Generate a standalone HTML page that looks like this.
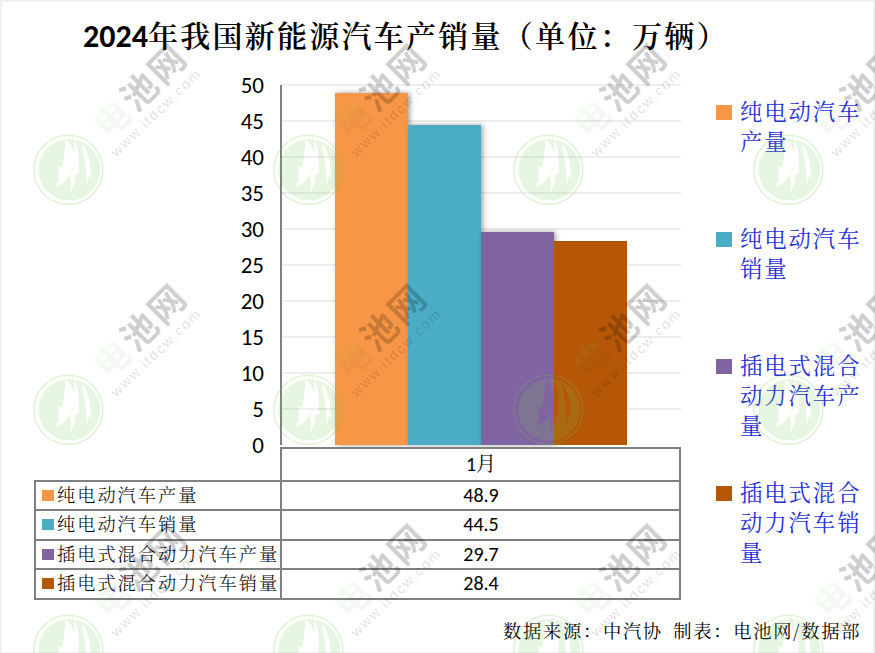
<!DOCTYPE html>
<html lang="zh-CN">
<head>
<meta charset="utf-8">
<title>2024年我国新能源汽车产销量</title>
<style>
html,body{margin:0;padding:0;}
body{width:875px;height:653px;overflow:hidden;background:#fff;position:relative;
  font-family:"Carlito","Liberation Sans","Noto Serif CJK SC",serif;color:#000;}
.frame{position:absolute;left:0;top:0;width:875px;height:653px;box-sizing:border-box;
  border-left:2px solid #f0f0f0;border-top:2px solid #f0f0f0;border-right:2px solid #f0f0f0;border-bottom:1px solid #f0f0f0;z-index:30;pointer-events:none;}
.abs{position:absolute;}
.title{position:absolute;left:83px;top:14px;font-size:32px;font-weight:bold;white-space:nowrap;line-height:40px;
  font-family:"Carlito","Liberation Sans","Noto Serif CJK SC",serif;}
.cjk{font-family:"Noto Serif CJK SC","Noto Sans CJK SC",serif;}
.tc{font-size:30px;font-weight:600;letter-spacing:2.27px;}
.grid{position:absolute;left:282px;width:399px;height:2px;background:#eeeeee;}
.ylab{position:absolute;right:611px;width:40px;text-align:right;font-size:23px;line-height:24px;}
.bar{position:absolute;width:73px;box-shadow:2px 0 5px rgba(0,0,0,0.36);}
.bar.ns{box-shadow:none;border-top:1px solid #ad5005;border-right:1px solid #ad5005;box-sizing:border-box;}
.hl{position:absolute;height:2px;background:#808080;}
.vl{position:absolute;width:2px;background:#808080;}
.trow{position:absolute;left:36px;width:244px;height:28px;font-size:18.2px;letter-spacing:2px;line-height:28px;white-space:nowrap;font-weight:300;}
.trow i{display:inline-block;width:12px;height:11px;margin:0 3px 0 6px;vertical-align:1px;}
.tval{position:absolute;left:282px;width:398px;text-align:center;font-size:20px;line-height:28px;}
.leg{position:absolute;left:716px;width:150px;}
.leg i{position:absolute;left:0;width:16px;height:15px;}
.leg span{position:absolute;left:24px;top:-3px;width:130px;font-size:22.4px;line-height:30px;color:#1f2fd8;
  font-family:"Noto Serif CJK SC",serif;letter-spacing:1.9px;font-weight:400;}
.foot{position:absolute;left:503px;top:617px;font-size:18.3px;letter-spacing:1.7px;line-height:26px;white-space:nowrap;word-spacing:4px;font-weight:400;
  font-family:"Noto Serif CJK SC",serif;}
.wm{position:absolute;left:0;top:0;width:875px;height:653px;z-index:40;pointer-events:none;}
</style>
</head>
<body>
<div class="title">2024<span class="cjk tc">年我国新能源汽车产销量（单位：万辆）</span></div>

<!-- gridlines -->
<div class="grid" style="top:84px"></div>
<div class="grid" style="top:120px"></div>
<div class="grid" style="top:156px"></div>
<div class="grid" style="top:192px"></div>
<div class="grid" style="top:228px"></div>
<div class="grid" style="top:264px"></div>
<div class="grid" style="top:300px"></div>
<div class="grid" style="top:336px"></div>
<div class="grid" style="top:372px"></div>
<div class="grid" style="top:408px"></div>

<!-- y labels -->
<div class="ylab" style="top:73px">50</div>
<div class="ylab" style="top:109px">45</div>
<div class="ylab" style="top:145px">40</div>
<div class="ylab" style="top:181px">35</div>
<div class="ylab" style="top:217px">30</div>
<div class="ylab" style="top:253px">25</div>
<div class="ylab" style="top:289px">20</div>
<div class="ylab" style="top:325px">15</div>
<div class="ylab" style="top:361px">10</div>
<div class="ylab" style="top:397px">5</div>
<div class="ylab" style="top:433px">0</div>

<!-- bars -->
<div class="bar" style="left:335px;top:93px;height:352px;background:#f79646;"></div>
<div class="bar" style="left:408px;top:125px;height:320px;background:#4bacc6;"></div>
<div class="bar" style="left:481px;top:232px;height:213px;background:#8064a2;"></div>
<div class="bar ns" style="left:554px;top:241px;height:204px;background:#b65708;"></div>

<!-- axis -->
<div class="vl" style="left:280px;top:85px;height:360px;"></div>

<!-- table -->
<div class="hl" style="left:280px;top:447px;width:401px;"></div>
<div class="vl" style="left:280px;top:447px;height:153px;"></div>
<div class="vl" style="left:679px;top:447px;height:153px;"></div>
<div class="vl" style="left:34px;top:480px;height:120px;"></div>
<div class="hl" style="left:34px;top:480px;width:647px;"></div>
<div class="hl" style="left:34px;top:509px;width:647px;"></div>
<div class="hl" style="left:34px;top:539px;width:647px;"></div>
<div class="hl" style="left:34px;top:568px;width:647px;"></div>
<div class="hl" style="left:34px;top:598px;width:647px;"></div>

<div class="tval" style="top:448px;height:30px;line-height:30px;">1<span class="cjk">月</span></div>
<div class="tval" style="top:481px;">48.9</div>
<div class="tval" style="top:510px;">44.5</div>
<div class="tval" style="top:540px;">29.7</div>
<div class="tval" style="top:569px;">28.4</div>

<div class="trow cjk" style="top:480px;"><i style="background:#f79646"></i>纯电动汽车产量</div>
<div class="trow cjk" style="top:509px;"><i style="background:#4bacc6"></i>纯电动汽车销量</div>
<div class="trow cjk" style="top:539px;"><i style="background:#8064a2"></i>插电式混合动力汽车产量</div>
<div class="trow cjk" style="top:568px;"><i style="background:#b65708"></i>插电式混合动力汽车销量</div>

<!-- legend -->
<div class="leg" style="top:98px;"><i style="top:7px;background:#f79646"></i><span>纯电动汽车产量</span></div>
<div class="leg" style="top:225px;"><i style="top:7px;background:#4bacc6"></i><span>纯电动汽车销量</span></div>
<div class="leg" style="top:352px;"><i style="top:7px;background:#8064a2"></i><span>插电式混合动力汽车产量</span></div>
<div class="leg" style="top:479px;"><i style="top:7px;background:#b65708"></i><span>插电式混合动力汽车销量</span></div>

<div class="foot">数据来源：中汽协 制表：电池网/数据部</div>

<svg class="wm" width="875" height="653" viewBox="0 0 875 653">
<defs><mask id="lm" maskUnits="userSpaceOnUse" x="-40" y="-40" width="80" height="80"><circle cx="1" r="31" fill="#fff"/><path d="M-3,-31 C4,-26 7,-16 6,-8 C5,0 1,8 -5,13 L-12,17 C-10,11 -9,7 -9,3 L-11,-4 L-6,-2 C-4,-12 -3,-22 -3,-31Z" fill="#000"/><path d="M6,-31 C10,-22 11,-10 10,0 L11,4 L7.5,5 C7,12 5,17 2.5,23 C2,15 2,8 3,2 L4,2 C5,-10 6,-22 6,-31Z" fill="#000"/><path d="M13,-28 C19,-19 22,-10 22,0 L23,7 L20,7 C20,10 19.5,12 18.5,15 C18,5 17,-5 15.5,-14 C14.5,-20 14,-24 13,-28Z" fill="#000"/></mask><linearGradient id="dg" gradientUnits="userSpaceOnUse" x1="0" y1="-4" x2="0" y2="6"><stop offset="0" stop-color="rgb(100,210,70)" stop-opacity="0.36"/><stop offset="1" stop-color="#000" stop-opacity="0.19"/></linearGradient></defs>
<g transform="translate(68.3,169.8)">
<circle r="34.5" fill="none" stroke="rgb(110,200,70)" stroke-opacity="0.22" stroke-width="1.6"/>
<circle cx="1" r="31" fill="rgb(110,200,70)" fill-opacity="0.17" mask="url(#lm)"/>
<g transform="translate(70,-81) rotate(-45)"><text x="0" y="0" text-anchor="middle" dominant-baseline="central" font-family="Noto Sans CJK SC, sans-serif" font-weight="700" font-size="36" letter-spacing="2.5" fill="#000" fill-opacity="0.19"><tspan fill="url(#dg)">电</tspan>池网</text></g>
<g transform="translate(87.7,-57.5) rotate(-44)"><text x="0" y="0" text-anchor="middle" dominant-baseline="central" font-family="Liberation Sans, sans-serif" font-size="14" letter-spacing="1.9" fill="#000" fill-opacity="0.14">www.itdcw.com</text></g>
</g>
<g transform="translate(308.3,169.8)">
<circle r="34.5" fill="none" stroke="rgb(110,200,70)" stroke-opacity="0.22" stroke-width="1.6"/>
<circle cx="1" r="31" fill="rgb(110,200,70)" fill-opacity="0.17" mask="url(#lm)"/>
<g transform="translate(70,-81) rotate(-45)"><text x="0" y="0" text-anchor="middle" dominant-baseline="central" font-family="Noto Sans CJK SC, sans-serif" font-weight="700" font-size="36" letter-spacing="2.5" fill="#000" fill-opacity="0.19"><tspan fill="url(#dg)">电</tspan>池网</text></g>
<g transform="translate(87.7,-57.5) rotate(-44)"><text x="0" y="0" text-anchor="middle" dominant-baseline="central" font-family="Liberation Sans, sans-serif" font-size="14" letter-spacing="1.9" fill="#000" fill-opacity="0.14">www.itdcw.com</text></g>
</g>
<g transform="translate(548.3,169.8)">
<circle r="34.5" fill="none" stroke="rgb(110,200,70)" stroke-opacity="0.22" stroke-width="1.6"/>
<circle cx="1" r="31" fill="rgb(110,200,70)" fill-opacity="0.17" mask="url(#lm)"/>
<g transform="translate(70,-81) rotate(-45)"><text x="0" y="0" text-anchor="middle" dominant-baseline="central" font-family="Noto Sans CJK SC, sans-serif" font-weight="700" font-size="36" letter-spacing="2.5" fill="#000" fill-opacity="0.19"><tspan fill="url(#dg)">电</tspan>池网</text></g>
<g transform="translate(87.7,-57.5) rotate(-44)"><text x="0" y="0" text-anchor="middle" dominant-baseline="central" font-family="Liberation Sans, sans-serif" font-size="14" letter-spacing="1.9" fill="#000" fill-opacity="0.14">www.itdcw.com</text></g>
</g>
<g transform="translate(788.3,169.8)">
<circle r="34.5" fill="none" stroke="rgb(110,200,70)" stroke-opacity="0.22" stroke-width="1.6"/>
<circle cx="1" r="31" fill="rgb(110,200,70)" fill-opacity="0.17" mask="url(#lm)"/>
<g transform="translate(70,-81) rotate(-45)"><text x="0" y="0" text-anchor="middle" dominant-baseline="central" font-family="Noto Sans CJK SC, sans-serif" font-weight="700" font-size="36" letter-spacing="2.5" fill="#000" fill-opacity="0.19"><tspan fill="url(#dg)">电</tspan>池网</text></g>
<g transform="translate(87.7,-57.5) rotate(-44)"><text x="0" y="0" text-anchor="middle" dominant-baseline="central" font-family="Liberation Sans, sans-serif" font-size="14" letter-spacing="1.9" fill="#000" fill-opacity="0.14">www.itdcw.com</text></g>
</g>
<g transform="translate(68.3,409.8)">
<circle r="34.5" fill="none" stroke="rgb(110,200,70)" stroke-opacity="0.22" stroke-width="1.6"/>
<circle cx="1" r="31" fill="rgb(110,200,70)" fill-opacity="0.17" mask="url(#lm)"/>
<g transform="translate(70,-81) rotate(-45)"><text x="0" y="0" text-anchor="middle" dominant-baseline="central" font-family="Noto Sans CJK SC, sans-serif" font-weight="700" font-size="36" letter-spacing="2.5" fill="#000" fill-opacity="0.19"><tspan fill="url(#dg)">电</tspan>池网</text></g>
<g transform="translate(87.7,-57.5) rotate(-44)"><text x="0" y="0" text-anchor="middle" dominant-baseline="central" font-family="Liberation Sans, sans-serif" font-size="14" letter-spacing="1.9" fill="#000" fill-opacity="0.14">www.itdcw.com</text></g>
</g>
<g transform="translate(308.3,409.8)">
<circle r="34.5" fill="none" stroke="rgb(110,200,70)" stroke-opacity="0.22" stroke-width="1.6"/>
<circle cx="1" r="31" fill="rgb(110,200,70)" fill-opacity="0.17" mask="url(#lm)"/>
<g transform="translate(70,-81) rotate(-45)"><text x="0" y="0" text-anchor="middle" dominant-baseline="central" font-family="Noto Sans CJK SC, sans-serif" font-weight="700" font-size="36" letter-spacing="2.5" fill="#000" fill-opacity="0.19"><tspan fill="url(#dg)">电</tspan>池网</text></g>
<g transform="translate(87.7,-57.5) rotate(-44)"><text x="0" y="0" text-anchor="middle" dominant-baseline="central" font-family="Liberation Sans, sans-serif" font-size="14" letter-spacing="1.9" fill="#000" fill-opacity="0.14">www.itdcw.com</text></g>
</g>
<g transform="translate(548.3,409.8)">
<circle r="34.5" fill="none" stroke="rgb(110,200,70)" stroke-opacity="0.22" stroke-width="1.6"/>
<circle cx="1" r="31" fill="rgb(110,200,70)" fill-opacity="0.17" mask="url(#lm)"/>
<g transform="translate(70,-81) rotate(-45)"><text x="0" y="0" text-anchor="middle" dominant-baseline="central" font-family="Noto Sans CJK SC, sans-serif" font-weight="700" font-size="36" letter-spacing="2.5" fill="#000" fill-opacity="0.19"><tspan fill="url(#dg)">电</tspan>池网</text></g>
<g transform="translate(87.7,-57.5) rotate(-44)"><text x="0" y="0" text-anchor="middle" dominant-baseline="central" font-family="Liberation Sans, sans-serif" font-size="14" letter-spacing="1.9" fill="#000" fill-opacity="0.14">www.itdcw.com</text></g>
</g>
<g transform="translate(788.3,409.8)">
<circle r="34.5" fill="none" stroke="rgb(110,200,70)" stroke-opacity="0.22" stroke-width="1.6"/>
<circle cx="1" r="31" fill="rgb(110,200,70)" fill-opacity="0.17" mask="url(#lm)"/>
<g transform="translate(70,-81) rotate(-45)"><text x="0" y="0" text-anchor="middle" dominant-baseline="central" font-family="Noto Sans CJK SC, sans-serif" font-weight="700" font-size="36" letter-spacing="2.5" fill="#000" fill-opacity="0.19"><tspan fill="url(#dg)">电</tspan>池网</text></g>
<g transform="translate(87.7,-57.5) rotate(-44)"><text x="0" y="0" text-anchor="middle" dominant-baseline="central" font-family="Liberation Sans, sans-serif" font-size="14" letter-spacing="1.9" fill="#000" fill-opacity="0.14">www.itdcw.com</text></g>
</g>
<g transform="translate(68.3,649.8)">
<circle r="34.5" fill="none" stroke="rgb(110,200,70)" stroke-opacity="0.22" stroke-width="1.6"/>
<circle cx="1" r="31" fill="rgb(110,200,70)" fill-opacity="0.17" mask="url(#lm)"/>
<g transform="translate(70,-81) rotate(-45)"><text x="0" y="0" text-anchor="middle" dominant-baseline="central" font-family="Noto Sans CJK SC, sans-serif" font-weight="700" font-size="36" letter-spacing="2.5" fill="#000" fill-opacity="0.19"><tspan fill="url(#dg)">电</tspan>池网</text></g>
<g transform="translate(87.7,-57.5) rotate(-44)"><text x="0" y="0" text-anchor="middle" dominant-baseline="central" font-family="Liberation Sans, sans-serif" font-size="14" letter-spacing="1.9" fill="#000" fill-opacity="0.14">www.itdcw.com</text></g>
</g>
<g transform="translate(308.3,649.8)">
<circle r="34.5" fill="none" stroke="rgb(110,200,70)" stroke-opacity="0.22" stroke-width="1.6"/>
<circle cx="1" r="31" fill="rgb(110,200,70)" fill-opacity="0.17" mask="url(#lm)"/>
<g transform="translate(70,-81) rotate(-45)"><text x="0" y="0" text-anchor="middle" dominant-baseline="central" font-family="Noto Sans CJK SC, sans-serif" font-weight="700" font-size="36" letter-spacing="2.5" fill="#000" fill-opacity="0.19"><tspan fill="url(#dg)">电</tspan>池网</text></g>
<g transform="translate(87.7,-57.5) rotate(-44)"><text x="0" y="0" text-anchor="middle" dominant-baseline="central" font-family="Liberation Sans, sans-serif" font-size="14" letter-spacing="1.9" fill="#000" fill-opacity="0.14">www.itdcw.com</text></g>
</g>
<g transform="translate(548.3,649.8)">
<circle r="34.5" fill="none" stroke="rgb(110,200,70)" stroke-opacity="0.22" stroke-width="1.6"/>
<circle cx="1" r="31" fill="rgb(110,200,70)" fill-opacity="0.17" mask="url(#lm)"/>
<g transform="translate(70,-81) rotate(-45)"><text x="0" y="0" text-anchor="middle" dominant-baseline="central" font-family="Noto Sans CJK SC, sans-serif" font-weight="700" font-size="36" letter-spacing="2.5" fill="#000" fill-opacity="0.19"><tspan fill="url(#dg)">电</tspan>池网</text></g>
<g transform="translate(87.7,-57.5) rotate(-44)"><text x="0" y="0" text-anchor="middle" dominant-baseline="central" font-family="Liberation Sans, sans-serif" font-size="14" letter-spacing="1.9" fill="#000" fill-opacity="0.14">www.itdcw.com</text></g>
</g>
<g transform="translate(788.3,649.8)">
<circle r="34.5" fill="none" stroke="rgb(110,200,70)" stroke-opacity="0.22" stroke-width="1.6"/>
<circle cx="1" r="31" fill="rgb(110,200,70)" fill-opacity="0.17" mask="url(#lm)"/>
<g transform="translate(70,-81) rotate(-45)"><text x="0" y="0" text-anchor="middle" dominant-baseline="central" font-family="Noto Sans CJK SC, sans-serif" font-weight="700" font-size="36" letter-spacing="2.5" fill="#000" fill-opacity="0.19"><tspan fill="url(#dg)">电</tspan>池网</text></g>
<g transform="translate(87.7,-57.5) rotate(-44)"><text x="0" y="0" text-anchor="middle" dominant-baseline="central" font-family="Liberation Sans, sans-serif" font-size="14" letter-spacing="1.9" fill="#000" fill-opacity="0.14">www.itdcw.com</text></g>
</g>
</svg>
<div class="frame"></div>
</body>
</html>
